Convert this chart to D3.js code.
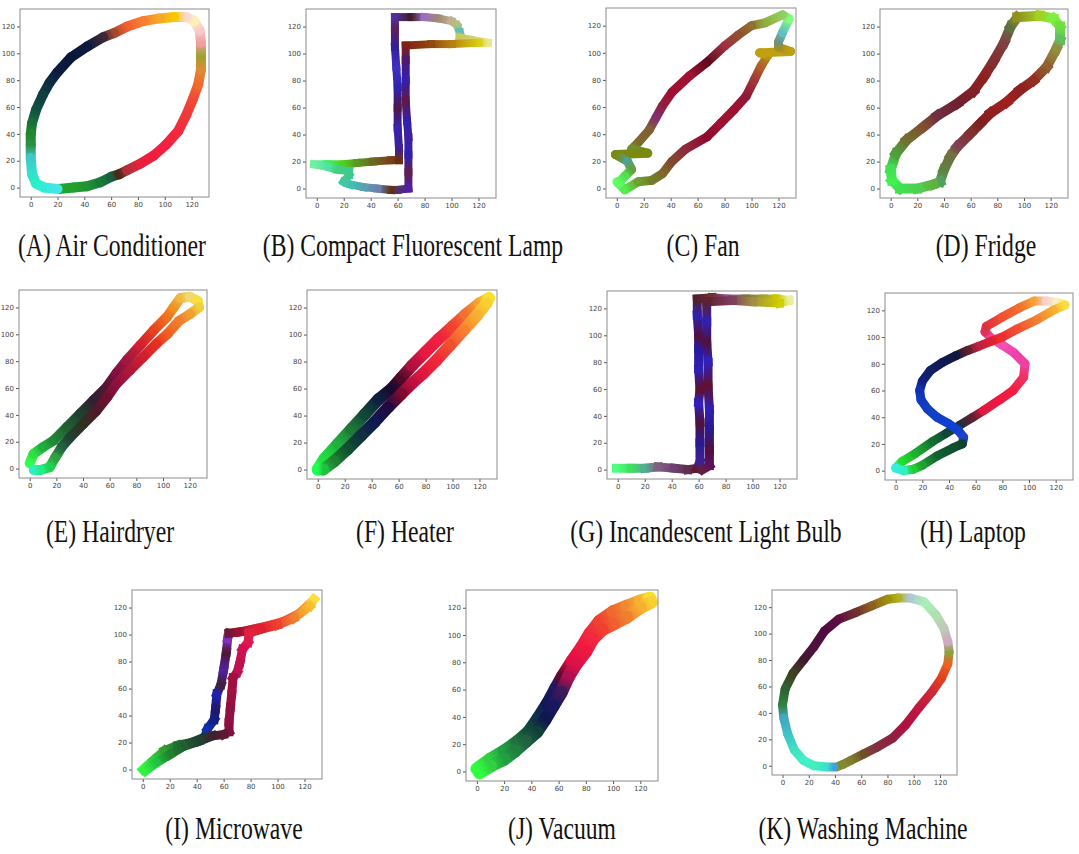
<!DOCTYPE html>
<meta charset="utf-8">
<head>
 <title>V-I trajectories</title>
</head>

<style>
body { margin: 0; background: #fff; }
.axis text { font-family: "DejaVu Sans", sans-serif; font-size: 7px; fill: #444; }
.axis line { stroke: #555; }
.caption { font-family: "Liberation Serif", "Times New Roman", serif; font-size: 32px; fill: #111; }
</style>

<body>
<svg width="1079" height="854"></svg>

<script src="https://d3js.org/d3.v7.min.js"></script>
<script>
// tick labels used by every panel
var ticks = [0, 20, 40, 60, 80, 100, 120]

var captions = ["(A) Air Conditioner", "(B) Compact Fluorescent Lamp", "(C) Fan", "(D) Fridge",
  "(E) Hairdryer", "(F) Heater", "(G) Incandescent Light Bulb", "(H) Laptop",
  "(I) Microwave", "(J) Vacuum", "(K) Washing Machine"]

// trajectories (x, y in plot units), and the colour seen at each point
var airCond = [[21,-1],[32,0],[42,1],[52,4],[60,8],[66,10],[72,13],[82,18],[92,24],[101,32],[110,42],[116,54],[121,66],[125,77],[127,88],[127,98],[127,108],[126,117],[122,124],[116,127],[107,127],[96,126],[84,124],[72,120],[62,115],[54,112],[42,105],[30,97],[20,86],[14,78],[9,69],[4,58],[1,48],[0,40],[0,32],[0,22],[1,10],[4,3],[10,0],[20,-1]]
var airCondColors = ["#25a52a","#22a02e","#1f9335","#1a7a38","#176040","#4a2a18","#b03038","#e8203c","#f01e3c","#f42040","#f42a3c","#f0383a","#f04a34","#f06a30","#e08a30","#a0a030","#f0a0a0","#f8c8c8","#fff0b8","#f8dcd0","#f8c800","#f8a828","#f88030","#f06030","#a04a30","#402838","#0c1a40","#0a1838","#0a1c40","#0e2c40","#103c40","#105040","#18703a","#20882c","#289040","#40c8c8","#30e0d0","#28f0c8","#30ecd8","#48e4ec"]

var cfl = [[-2,18],[8,18],[20,18],[30,19],[42,20],[55,21],[61,21],[61,30],[60,45],[60,60],[60,75],[59,90],[58,105],[58,118],[58,127],[70,127],[80,127],[90,126],[100,124],[104,121],[106,116],[106,112],[115,110],[127,108],[120,108],[100,107],[85,107],[66,106],[66,95],[66,80],[66,65],[67,50],[68,38],[68,25],[68,12],[68,0],[60,-1],[55,-1],[45,0],[35,1],[25,3],[20,5],[24,10],[24,13],[15,14],[8,16],[-2,18]]
var cflColors = ["#70f0a0","#40f060","#50d020","#5a9a20","#6a6a20","#7a4018","#6a3010","#402090","#3a20b0","#501848","#3020b0","#4030c0","#3020a0","#5a2060","#5030a0","#402028","#9a70c0","#a08878","#c0b090","#b0c080","#60c0b0","#c8c860","#d0d070","#e8e890","#d8d010","#b88010","#904a10","#802010","#501870","#3020b0","#601848","#3020b0","#4020a0","#3020b0","#602050","#5020a0","#503070","#603018","#6a80b0","#5aa0b0","#40c0b0","#40c8a0","#40c890","#40c890","#40d080","#50e0a0","#70f0a0"]

var fan = [[0,5],[6,-1],[16,5],[26,6],[34,11],[41,20],[51,29],[67,38],[77,48],[87,58],[96,68],[102,80],[107,90],[112,98],[106,100],[129,101],[120,104],[120,108],[123,115],[128,125],[123,128],[110,122],[100,120],[90,113],[80,105],[67,93],[54,83],[41,71],[34,61],[29,52],[24,43],[16,34],[11,29],[23,26],[-1,25],[8,20],[11,14],[6,9],[1,4]]
var fanColors = ["#70ff70","#50f050","#70a030","#708028","#806828","#804830","#902a3a","#900a30","#a01030","#a01030","#901838","#a03838","#b06028","#b89020","#c0a010","#c0a010","#a09020","#709080","#60c0c0","#80ff80","#90d060","#90b040","#907030","#905030","#a03040","#600a20","#a01030","#a01030","#902040","#803070","#806030","#806830","#709030","#7a8a10","#7a8a10","#50a090","#60a040","#50e050","#60ff60"]

var fridge = [[0,14],[4,26],[12,36],[25,46],[35,54],[50,63],[62,72],[70,83],[77,94],[85,108],[90,120],[95,127],[112,128],[122,126],[127,120],[127,110],[124,103],[117,90],[107,80],[97,73],[87,64],[75,56],[67,48],[60,41],[50,31],[45,24],[40,14],[37,5],[32,3],[20,0],[7,0],[1,6],[0,14]]
var fridgeColors = ["#40e050","#50a040","#707030","#805030","#703040","#702030","#802028","#902020","#803030","#804040","#607040","#909020","#a0d020","#80f040","#70e040","#60c060","#909040","#906030","#903020","#902020","#a02020","#902020","#802020","#803030","#804050","#707040","#608040","#50a060","#60b040","#50d050","#40e050","#40f050","#40e050"]

var hairdryer = [[0,4],[3,11],[10,16],[18,21],[28,31],[38,41],[48,51],[58,61],[65,71],[73,81],[83,92],[93,103],[103,113],[108,120],[113,127],[120,128],[126,125],[127,120],[120,115],[112,110],[103,100],[95,93],[85,83],[75,73],[65,63],[58,53],[50,43],[40,33],[30,23],[24,16],[19,8],[15,1],[8,-1],[3,-1]]
var hairdryerColors = ["#30ff50","#30e040","#20b040","#208838","#206030","#204030","#302030","#501830","#801040","#a01840","#d02030","#e84020","#f07020","#f09020","#f0b840","#f0d870","#f8e040","#f0d040","#f0a030","#f08030","#f06020","#e83020","#d02030","#b01838","#901040","#701030","#501828","#303020","#204030","#206040","#30a040","#20d050","#20f080","#30f0c0"]

var heater = [[0,0],[5,8],[15,19],[25,30],[35,41],[45,52],[55,60],[62,68],[70,77],[80,87],[90,97],[100,106],[110,115],[120,123],[127,127],[125,123],[118,114],[108,103],[98,92],[88,81],[78,71],[70,64],[62,56],[52,46],[42,35],[32,25],[22,15],[12,6],[4,0],[0,0]]
var heaterColors = ["#20ff50","#20e040","#20b040","#207838","#104838","#102040","#180a30","#500a28","#b01040","#e81840","#f02040","#f04030","#f07030","#f8a030","#f8e030","#f8d030","#f8b030","#f88030","#f05030","#f02838","#e01840","#c01040","#800a30","#200a40","#101850","#103040","#105030","#208030","#20c040","#20ff50"]

var bulb = [[-1,1],[10,1],[20,1],[30,2],[42,1],[52,0],[59,1],[61,6],[61,20],[61,35],[60,50],[61,60],[60,75],[60,90],[60,100],[59,115],[59,127],[70,128],[82,127],[95,127],[108,127],[118,127],[127,126],[120,124],[100,125],[85,126],[66,125],[66,110],[66,95],[67,80],[67,62],[68,45],[68,30],[68,15],[68,3],[63,0]]
var bulbColors = ["#50ff80","#40e060","#50b090","#806080","#704070","#603050","#601838","#402090","#2a1a90","#501040","#3020c0","#601030","#3020b0","#2a1aa0","#501040","#3020b0","#502030","#703030","#9050a0","#807040","#a0a030","#c8c800","#e8f0a0","#d0d000","#a09040","#804060","#602030","#3020b0","#501040","#3020c0","#601030","#3020b0","#2a1a90","#501040","#5a1060","#602040"]

var laptop = [[0,2],[5,7],[15,13],[28,22],[38,28],[48,34],[58,40],[66,45],[78,53],[88,60],[96,70],[97,80],[89,88],[80,94],[72,99],[67,104],[68,108],[80,115],[93,122],[104,127],[113,127],[121,126],[127,124],[118,120],[106,113],[91,106],[80,100],[72,97],[62,93],[54,90],[45,86],[35,81],[26,75],[20,67],[18,60],[19,53],[24,46],[31,40],[40,35],[47,30],[51,25],[50,20],[43,17],[31,11],[20,4],[13,1],[6,0],[0,2]]
var laptopColors = ["#30f0e0","#20e030","#20b030","#107030","#104838","#203040","#602030","#e01840","#f01840","#f01e40","#f03060","#f040a0","#f040b0","#f050b0","#f050b0","#e03060","#e03040","#f05030","#f07030","#f8a030","#f8d0d0","#f8f0c0","#f8e040","#f8b030","#f08030","#f05030","#f03030","#e02030","#c02040","#602030","#101840","#101850","#102060","#102080","#1030b0","#1038c0","#1040c0","#1040c8","#1040d0","#1040d0","#2040d0","#104030","#105030","#106030","#20a030","#20d030","#30f0c0","#30f0e0"]

var microwave = [[0,0],[8,7],[16,14],[26,18],[36,20],[46,24],[48,30],[53,37],[54,45],[55,56],[58,63],[60,74],[62,87],[63,97],[64,101],[72,102],[82,104],[95,107],[105,110],[115,115],[122,121],[127,126],[124,121],[112,112],[100,107],[88,104],[79,101],[78,94],[74,89],[72,79],[70,72],[67,68],[66,56],[65,46],[64,35],[64,28],[60,26],[52,25],[42,21],[30,17],[20,11],[10,5],[2,-1]]
var microwaveColors = ["#30ff40","#30d040","#30a030","#207030","#205030","#103838","#1030b0","#102080","#201870","#2020b0","#402040","#5020a0","#501838","#8030c0","#701838","#a01030","#d02030","#f03030","#f05030","#f07030","#f8a030","#f8e040","#f8c030","#f08030","#f04030","#e02030","#e02040","#e01850","#d01050","#c01050","#c01050","#a01040","#a01040","#901040","#901040","#801040","#601830","#402030","#204030","#206030","#208030","#20c040","#30f040"]

var vacuum = [[0,2],[10,9],[20,15],[30,22],[38,29],[45,39],[52,50],[58,61],[63,70],[70,81],[77,91],[83,101],[90,110],[100,117],[110,121],[120,125],[127,127],[128,124],[120,120],[110,113],[100,108],[92,104],[85,97],[80,88],[73,79],[67,69],[62,58],[56,48],[50,38],[44,29],[36,22],[28,15],[20,9],[10,4],[2,-1]]
var vacuumColors = ["#30ff40","#30d040","#20a040","#207040","#105038","#103048","#101858","#201860","#600a30","#e01040","#f01840","#f02840","#f04030","#f06830","#f08830","#f8b030","#f8e030","#f8d030","#f8b030","#f08030","#f06030","#f04030","#f02840","#f01840","#e01048","#b01050","#401858","#181860","#101850","#104038","#206040","#208040","#20a040","#30d040","#30ff40"]

var washer = [[41,-1],[46,1],[52,4],[62,9],[72,14],[84,21],[94,31],[104,44],[114,56],[121,66],[126,77],[127,86],[126,94],[123,104],[117,114],[108,124],[97,127],[88,127],[80,126],[68,121],[56,116],[43,111],[32,102],[24,90],[16,80],[8,70],[2,58],[0,46],[1,36],[4,24],[9,12],[16,4],[24,0],[34,-1],[39,-1]]
var washerColors = ["#7a9a30","#808a30","#808030","#705028","#803040","#902040","#b01040","#c01840","#d02838","#e04020","#f06020","#90a040","#d0a8c0","#c0c8b8","#b0e0b0","#a8f0b8","#b0c8d8","#b0b020","#a09010","#906020","#703030","#601040","#500a40","#501040","#401830","#404020","#306030","#308040","#40a8c0","#40c0c8","#40e0c0","#40f0c8","#40f0c0","#40e0c8","#40a0e0"]

var traces = [airCond, cfl, fan, fridge, hairdryer, heater, bulb, laptop, microwave, vacuum, washer]
var traceColors = [airCondColors, cflColors, fanColors, fridgeColors, hairdryerColors, heaterColors,
  bulbColors, laptopColors, microwaveColors, vacuumColors, washerColors]

// where each small plot sits on the page
var layout = [
  {x: 20,  y: 9,   w: 189, h: 188, cx: 112, cy: 256, sw: 10, cap: "round"},
  {x: 306, y: 9,   w: 190, h: 189, cx: 413, cy: 256, sw: 8,  cap: "square"},
  {x: 606, y: 8,   w: 190, h: 190, cx: 703, cy: 256, sw: 9,  cap: "round"},
  {x: 880, y: 9,   w: 188, h: 189, cx: 986, cy: 256, sw: 10, cap: "square"},
  {x: 19,  y: 290, w: 188, h: 188, cx: 110, cy: 542, sw: 10, cap: "round"},
  {x: 307, y: 290, w: 190, h: 189, cx: 405, cy: 542, sw: 12, cap: "round"},
  {x: 607, y: 291, w: 190, h: 188, cx: 706, cy: 542, sw: 9,  cap: "square"},
  {x: 885, y: 293, w: 188, h: 187, cx: 973, cy: 542, sw: 9,  cap: "round"},
  {x: 132, y: 590, w: 190, h: 189, cx: 234, cy: 839, sw: 9,  cap: "square"},
  {x: 466, y: 590, w: 192, h: 191, cx: 562, cy: 839, sw: 13, cap: "round"},
  {x: 772, y: 590, w: 185, h: 185, cx: 863, cy: 839, sw: 9,  cap: "round"}
]

var svg = d3.select("svg")
var defs = svg.append("defs")
var gid = 0

traces.forEach(function(pts, k) {
  var L = layout[k]
  var cols = traceColors[k]
  var g = svg.append("g").attr("transform", "translate(" + L.x + "," + L.y + ")")

  var x = d3.scaleLinear().domain([-8, 133]).range([0, L.w])
  var y = d3.scaleLinear().domain([-7, 133]).range([L.h, 0])

  g.append("g")
    .attr("class", "axis")
    .attr("transform", "translate(0," + L.h + ")")
    .call(d3.axisBottom(x).tickValues(ticks).tickSize(3).tickPadding(2))
    .call(function(a) { a.select(".domain").remove() })

  g.append("g")
    .attr("class", "axis")
    .call(d3.axisLeft(y).tickValues(ticks).tickSize(3).tickPadding(2))
    .call(function(a) { a.select(".domain").remove() })

  // colour changes along the path: one short gradient per step
  var nodes = pts.map(function(d, i) {
    return {x: x(d[0]), y: y(d[1]), c: cols[Math.min(i, cols.length - 1)]}
  })
  d3.pairs(nodes).forEach(function(s) {
    var a = s[0], b = s[1]
    var stroke = a.c
    if (a.x !== b.x || a.y !== b.y) {
      var id = "gr" + (gid++)
      var lg = defs.append("linearGradient")
        .attr("id", id)
        .attr("gradientUnits", "userSpaceOnUse")
        .attr("x1", a.x).attr("y1", a.y)
        .attr("x2", b.x).attr("y2", b.y)
      lg.append("stop").attr("offset", 0).attr("stop-color", a.c)
      lg.append("stop").attr("offset", 1).attr("stop-color", b.c)
      stroke = "url(#" + id + ")"
    }
    g.append("line")
      .attr("x1", a.x).attr("y1", a.y)
      .attr("x2", b.x).attr("y2", b.y)
      .attr("stroke", stroke)
      .attr("stroke-width", L.sw)
      .attr("stroke-linecap", L.cap)
  })

  g.append("rect")
    .attr("width", L.w)
    .attr("height", L.h)
    .attr("fill", "none")
    .attr("stroke", "#8c8c8c")
    .attr("stroke-width", 1)

  svg.append("text")
    .attr("class", "caption")
    .attr("text-anchor", "middle")
    .attr("transform", "translate(" + L.cx + "," + L.cy + ") scale(0.74,1)")
    .text(captions[k])
})
</script>

</body>
</html>
